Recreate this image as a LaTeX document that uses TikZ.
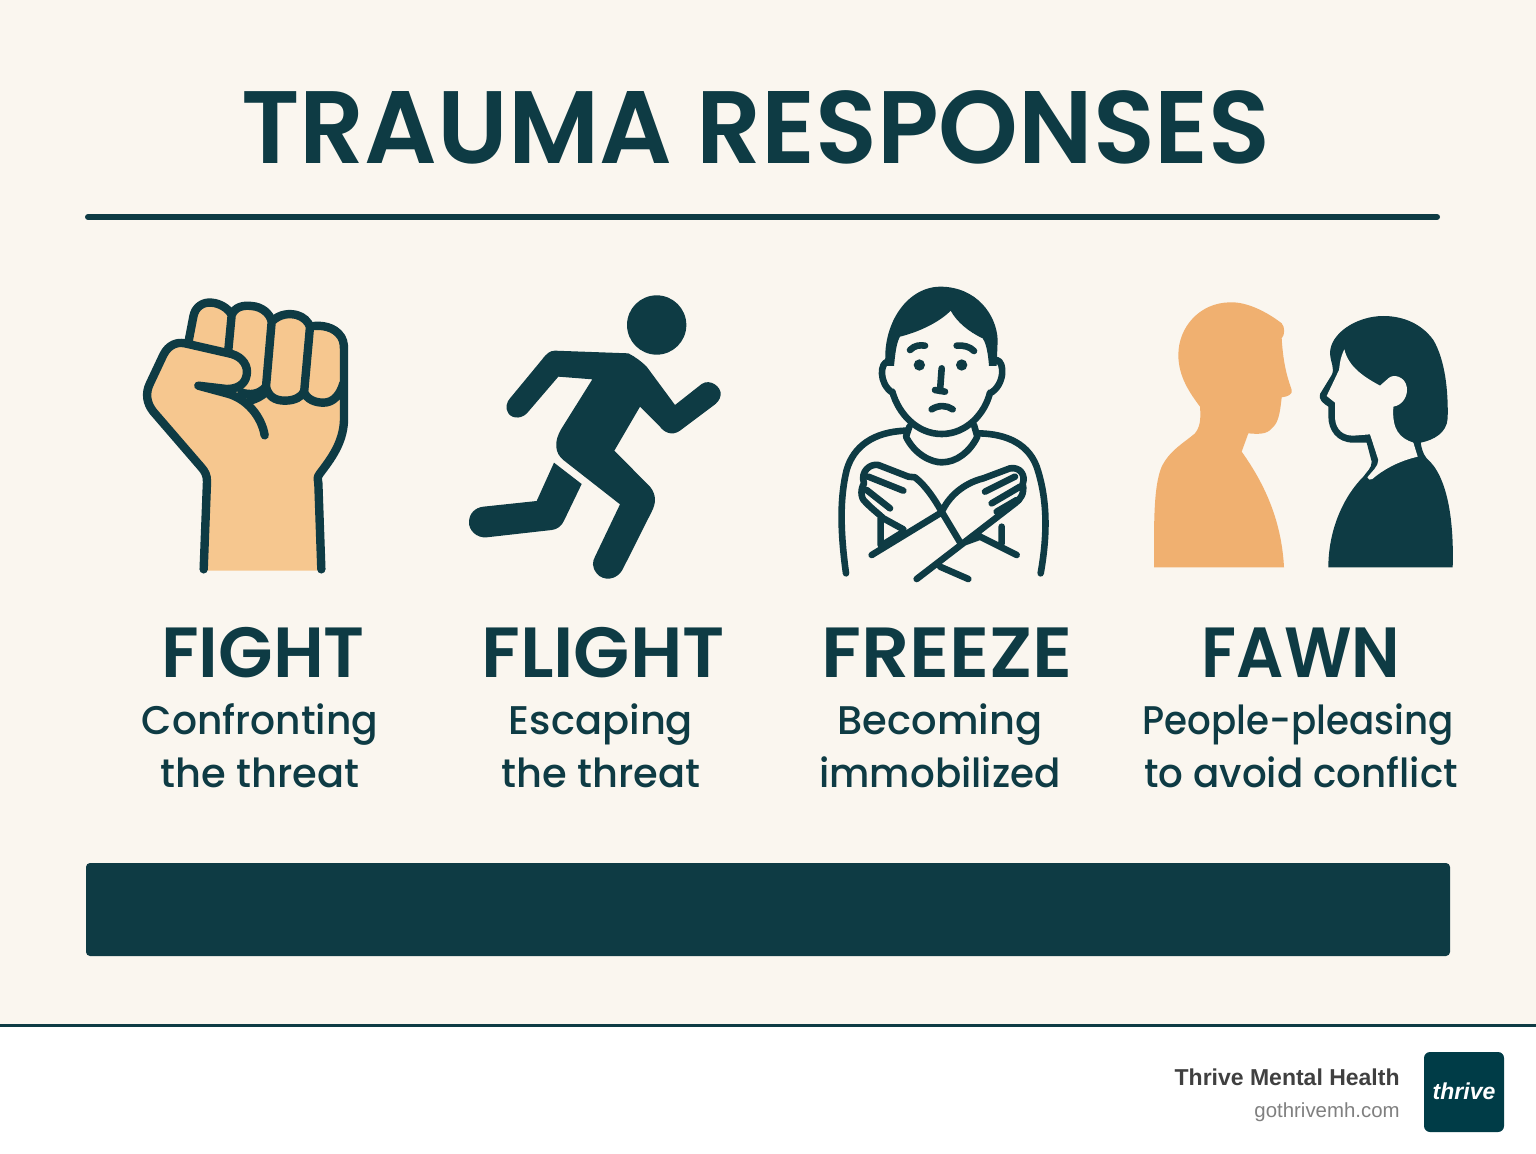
\documentclass[tikz,border=0pt]{standalone}
\usepackage{fontspec}
\setmainfont{Poppins}
\newfontfamily\semif{Poppins SemiBold}
\newfontfamily\medf{Poppins Medium}
\newfontfamily\footf{Liberation Sans}
\definecolor{ink}{HTML}{0E3B44}
\definecolor{paper}{HTML}{FAF6EF}
\definecolor{skin}{HTML}{F6C78F}
\definecolor{peach}{HTML}{F0B070}
\definecolor{logoink}{HTML}{003C47}
\tikzset{
  fistline/.style={draw=ink,line width=4.2pt,line cap=round,line join=round},
  faceline/.style={draw=ink,line width=3.3pt,line cap=round,line join=round},
  zoomed/.style={x=0.16667pt,y=-0.16667pt},
  headtxt/.style={inner sep=0pt,anchor=base,text=ink,font=\semif\fontsize{35.5}{40}\selectfont},
  subtxt/.style={inner sep=0pt,anchor=base,text=ink,font=\medf\fontsize{20}{26}\selectfont},
}
\begin{document}
\begin{tikzpicture}[x=0.5pt,y=-0.5pt]
\useasboundingbox (0,0) rectangle (1536,1154);
\fill[paper] (0,0) rectangle (1536,1026);
\fill[white] (0,1026) rectangle (1536,1154);
\draw[ink,line width=1.5pt] (0,1025.5) -- (1536,1025.5);

\node[inner sep=0pt,anchor=base,text=ink,font=\semif\fontsize{51.5}{60}\selectfont] (title) at (756,164) {\scalebox{0.985}[1]{TRAUMA RESPONSES}};
\draw[ink,line width=3pt,line cap=round] (88,217) -- (1437,217);

% fist
\begin{scope}[shift={(130,280)},zoomed]
\fill[skin] (232,872) -- (231,605) .. controls (231,585) and (225,575) .. (215,563) -- (70,395) .. controls (50,370) and (45,340) .. (60,310) -- (100,225) .. controls (115,195) and (140,185) .. (175,188) -- (190,110) .. controls (195,80) and (220,65) .. (245,68) .. controls (270,70) and (295,85) .. (305,105) .. controls (315,80) and (340,75) .. (365,78) .. controls (395,80) and (420,100) .. (425,125) .. controls (450,100) and (480,100) .. (500,105) .. controls (520,110) and (535,125) .. (540,140) .. controls (560,135) and (600,135) .. (625,160) .. controls (640,175) and (642,190) .. (642,210) -- (642,420) .. controls (640,490) and (600,540) .. (570,580) .. controls (560,592) and (563,600) .. (565,610) -- (562,872) -- cycle;
\path[fistline]
  (221,868) -- (231,605) .. controls (231,585) and (225,575) .. (215,563) -- (70,395) .. controls (50,370) and (45,340) .. (60,310) -- (100,225) .. controls (115,195) and (140,185) .. (165,190) -- (305,222) .. controls (340,232) and (355,260) .. (350,285) .. controls (345,315) and (320,327) .. (290,327) -- (205,317) -- (290,340) .. controls (350,355) and (395,410) .. (404,466)
  (175,188) -- (190,110) .. controls (195,80) and (220,65) .. (245,68) .. controls (270,70) and (295,85) .. (305,105) -- (295,210)
  (305,105) .. controls (315,80) and (340,75) .. (365,78) .. controls (395,80) and (420,100) .. (425,125) -- (408,320) .. controls (385,345) and (360,345) .. (335,338)
  (360,362) .. controls (375,358) and (395,350) .. (408,335)
  (425,125) .. controls (450,100) and (480,100) .. (500,105) .. controls (520,110) and (535,125) .. (540,140) -- (522,340)
  (408,320) .. controls (415,350) and (435,362) .. (465,362) .. controls (495,362) and (515,350) .. (522,335)
  (522,335) .. controls (530,358) and (555,368) .. (580,368) .. controls (610,368) and (630,345) .. (640,310)
  (540,140) .. controls (560,135) and (600,135) .. (625,160) .. controls (640,175) and (642,190) .. (642,210) -- (642,420) .. controls (640,490) and (600,540) .. (570,580) .. controls (560,592) and (563,600) .. (565,610) -- (574,868);
\end{scope}

% runner
\begin{scope}[shift={(460,285)},zoomed]
\fill[ink] (590,120) circle (89);
\fill[ink] (285,197) -- (505,205) .. controls (525,215) and (545,230) .. (560,245) -- (645,360) -- (725,297) .. controls (750,280) and (785,305) .. (782,330) .. controls (780,345) and (770,355) .. (760,362) -- (660,437) .. controls (635,455) and (610,440) .. (600,425) -- (540,365) -- (463,497) -- (570,605) .. controls (590,630) and (588,655) .. (575,680) -- (487,855) .. controls (470,885) and (430,890) .. (410,865) .. controls (395,845) and (397,830) .. (405,815) -- (480,658) -- (310,525) .. controls (285,505) and (280,470) .. (305,430) -- (397,283) -- (295,275) -- (205,380) .. controls (190,400) and (160,405) .. (145,385) .. controls (135,370) and (140,350) .. (150,340) -- (245,225) .. controls (260,205) and (270,197) .. (285,197) -- cycle;
\fill[ink] (282,533) -- (365,597) -- (313,705) .. controls (305,725) and (290,733) .. (275,735) -- (80,757) .. controls (50,760) and (25,735) .. (27,710) .. controls (28,685) and (45,668) .. (70,665) -- (230,648) -- cycle;
\end{scope}

% freeze
\begin{scope}[shift={(820,280)},zoomed]
\fill[ink] (197,258) .. controls (185,140) and (255,22) .. (360,20) .. controls (470,20) and (530,105) .. (533,180) -- (530,258) -- (507,258) .. controls (503,205) and (495,185) .. (488,175) .. controls (445,155) and (410,125) .. (392,92) .. controls (360,125) and (300,155) .. (240,170) .. controls (228,190) and (225,230) .. (222,258) -- cycle;
\path[faceline]
  (205,245) .. controls (180,245) and (175,310) .. (217,338)
  (217,335) .. controls (235,400) and (290,462) .. (365,462) .. controls (440,462) and (495,400) .. (510,338)
  (530,240) .. controls (555,245) and (555,315) .. (510,340)
  (270,210) .. controls (285,195) and (300,195) .. (315,197)
  (410,197) .. controls (430,195) and (450,200) .. (462,213)
  (365,265) -- (360,333) (345,330) -- (375,335)
  (335,388) .. controls (355,375) and (380,375) .. (398,388)
  (268,440) -- (258,470) .. controls (285,525) and (335,547) .. (365,547) .. controls (410,547) and (450,515) .. (472,470) -- (462,435)
  (78,880) .. controls (60,750) and (60,650) .. (80,570) .. controls (100,500) and (160,455) .. (258,452)
  (662,880) .. controls (685,750) and (680,650) .. (650,560) .. controls (620,480) and (540,460) .. (470,460)
  (175,555) -- (265,590) -- (285,592) .. controls (320,620) and (345,660) .. (365,695) -- (422,790)
  (175,555) .. controls (150,550) and (120,575) .. (132,610) .. controls (118,635) and (125,660) .. (140,670) .. controls (160,690) and (180,705) .. (190,715) -- (250,748)
  (145,590) -- (250,632) (140,630) -- (210,685)
  (182,715) -- (182,795) (195,790) -- (240,762)
  (360,860) -- (445,897)
  (155,825) -- (365,697) .. controls (385,650) and (430,610) .. (490,595) -- (570,565) .. controls (600,560) and (618,585) .. (608,612) .. controls (615,640) and (600,660) .. (585,670) -- (290,897)
  (495,635) -- (585,590) (515,670) -- (600,620) (530,695) -- (590,660)
  (545,740) -- (545,790) (425,790) -- (480,770) -- (590,825);
\fill[ink] (298,255) circle (17) (425,255) circle (17);
\end{scope}

% fawn
\begin{scope}[shift={(1140,290)},zoomed]
\fill[peach] (42,832) -- (432,832) .. controls (425,700) and (380,590) .. (305,485) -- (325,430) .. controls (350,432) and (380,435) .. (395,415) .. controls (415,400) and (420,370) .. (425,322) .. controls (445,320) and (458,312) .. (455,300) .. controls (445,270) and (430,230) .. (425,145) .. controls (435,135) and (435,110) .. (425,100) .. controls (380,65) and (320,35) .. (270,37) .. controls (180,38) and (115,110) .. (115,195) .. controls (115,260) and (150,310) .. (180,350) .. controls (183,390) and (180,410) .. (165,430) .. controls (130,460) and (90,480) .. (65,530) .. controls (40,590) and (42,700) .. (42,832) -- cycle;
\fill[ink] (565,832) -- (938,832) .. controls (942,700) and (925,560) .. (860,505) .. controls (848,490) and (845,475) .. (842,458) .. controls (880,450) and (920,430) .. (923,385) .. controls (925,300) and (915,210) .. (880,150) .. controls (840,95) and (780,78) .. (730,78) .. controls (650,78) and (570,130) .. (570,190) .. controls (572,220) and (585,235) .. (575,255) -- (540,312) .. controls (535,330) and (550,340) .. (565,350) -- (565,380) .. controls (565,420) and (590,458) .. (640,458) -- (680,458) -- (695,515) .. controls (695,535) and (680,545) .. (670,560) .. controls (610,620) and (565,720) .. (565,832) -- cycle;
\fill[paper] (613,178) .. controls (600,205) and (600,220) .. (597,240) -- (560,318) -- (585,338) -- (585,385) .. controls (588,420) and (610,437) .. (640,437) -- (690,433) -- (715,510) .. controls (715,530) and (695,545) .. (682,562) .. controls (684,570) and (692,570) .. (697,567) .. controls (740,530) and (790,510) .. (833,500) -- (820,458) .. controls (780,445) and (755,420) .. (760,350) .. controls (790,345) and (805,315) .. (800,290) .. controls (795,260) and (760,250) .. (745,265) -- (720,287) .. controls (670,260) and (625,230) .. (613,178) -- cycle;
\end{scope}

\node[headtxt] (fight) at (263,677) {FIGHT};
\node[headtxt] (flight) at (603,677) {\scalebox{1.03}[1]{FLIGHT}};
\node[headtxt] (freeze) at (947,677) {\scalebox{1.06}[1]{FREEZE}};
\node[headtxt] (fawn) at (1301,677) {\scalebox{0.93}[1]{FAWN}};
\node[subtxt] (fighta) at (260,734) {\scalebox{0.98}[1]{Confronting}};
\node[subtxt] (fightb) at (260,787) {the threat};
\node[subtxt] (flighta) at (601,734) {Escaping};
\node[subtxt] (flightb) at (601,787) {the threat};
\node[subtxt] (freezea) at (940,734) {Becoming};
\node[subtxt] (freezeb) at (940,787) {\scalebox{0.97}[1]{immobilized}};
\node[subtxt] (fawna) at (1298,734) {\scalebox{0.93}[1]{People-pleasing}};
\node[subtxt] (fawnb) at (1301,787) {\scalebox{0.97}[1]{to avoid conflict}};

\fill[ink,rounded corners=2pt] (86,863) rectangle (1450,956);

\node[inner sep=0pt,anchor=base east,text=black!75,font=\footf\bfseries\fontsize{11.5}{14}\selectfont] (brand) at (1400,1085) {Thrive Mental Health};
\node[inner sep=0pt,anchor=base east,text=black!50,font=\footf\fontsize{10.2}{12}\selectfont] (site) at (1400,1117) {gothrivemh.com};
\fill[logoink,rounded corners=3pt] (1424,1052) rectangle (1504,1132);
\node[inner sep=0pt,anchor=base,text=white,font=\footf\bfseries\itshape\fontsize{11.5}{14}\selectfont] (logo) at (1464,1099) {thrive};
\end{tikzpicture}
\end{document}
